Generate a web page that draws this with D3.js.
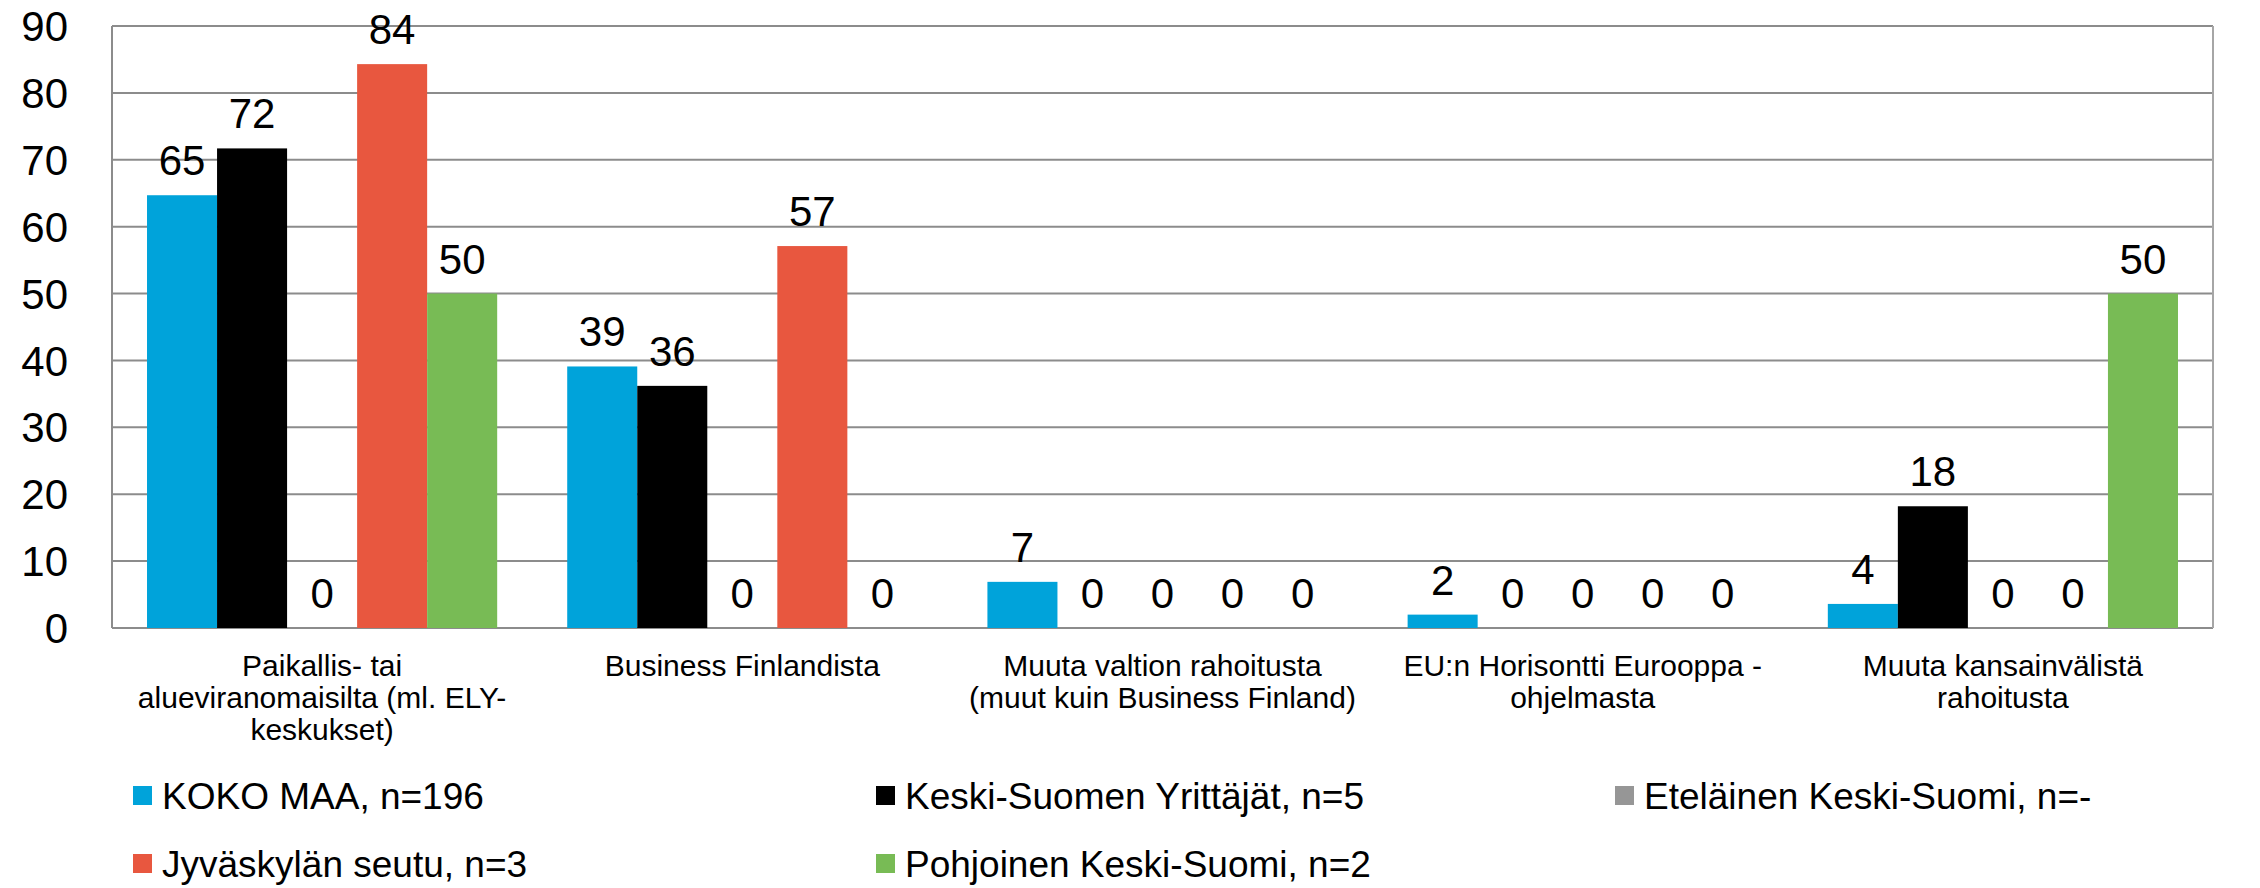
<!DOCTYPE html>
<html>
<head>
<meta charset="utf-8">
<script src="https://cdn.jsdelivr.net/npm/d3@7/dist/d3.min.js"></script>
<style>
  body, html {
    padding: 0;
    margin: 0;
    background: #fff;
  }
  svg {
    display: block;
    font-family: Arial, "Liberation Sans", sans-serif;
  }
</style>
</head>
<body>
<svg width="2260" height="888"></svg>
<script>

  // categories (wrapped as in the original)
  var categories = [
    ['Paikallis- tai', 'alueviranomaisilta (ml. ELY-', 'keskukset)'],
    ['Business Finlandista'],
    ['Muuta valtion rahoitusta', '(muut kuin Business Finland)'],
    ['EU:n Horisontti Eurooppa -', 'ohjelmasta'],
    ['Muuta kansainvälistä', 'rahoitusta']
  ];

  var seriesNames = [
    'KOKO MAA, n=196',
    'Keski-Suomen Yrittäjät, n=5',
    'Eteläinen Keski-Suomi, n=-',
    'Jyväskylän seutu, n=3',
    'Pohjoinen Keski-Suomi, n=2'
  ];

  var seriesColors = ['#00a3da', '#000000', '#969696', '#e8573f', '#78bb55'];

  // values per series, one per category
  var kokoMaa      = [64.7, 39.1, 6.9, 2.0, 3.6];
  var keskiSuomi   = [71.7, 36.2, 0, 0, 18.2];
  var etelainen    = [0, 0, 0, 0, 0];
  var jyvaskyla    = [84.3, 57.1, 0, 0, 0];
  var pohjoinen    = [50, 0, 0, 0, 50];

  var seriesValues = [kokoMaa, keskiSuomi, etelainen, jyvaskyla, pohjoinen];

  var yTicks = [0, 10, 20, 30, 40, 50, 60, 70, 80, 90];

  var svg = d3.select('svg');

  var plot = {left: 112, right: 2213, top: 26, bottom: 628};

  var x0 = d3.scaleBand()
    .domain(d3.range(categories.length))
    .range([plot.left, plot.right]);

  var x1 = d3.scaleBand()
    .domain(d3.range(seriesNames.length))
    .range([0, x0.bandwidth()])
    .paddingInner(0)
    .paddingOuter(0.5);

  var y = d3.scaleLinear()
    .domain([0, 90])
    .range([plot.bottom, plot.top]);

  // gridlines
  svg.append('g')
    .selectAll('line')
    .data(yTicks)
    .enter()
    .append('line')
      .attr('x1', plot.left)
      .attr('x2', plot.right)
      .attr('y1', function (d) { return y(d); })
      .attr('y2', function (d) { return y(d); })
      .style('stroke', '#8c8c8c')
      .style('stroke-width', 2);

  // left axis + right border
  svg.append('line')
    .attr('x1', plot.left).attr('x2', plot.left)
    .attr('y1', plot.top).attr('y2', plot.bottom)
    .style('stroke', '#8c8c8c').style('stroke-width', 2);

  svg.append('line')
    .attr('x1', plot.right).attr('x2', plot.right)
    .attr('y1', plot.top).attr('y2', plot.bottom)
    .style('stroke', '#a6a6a6').style('stroke-width', 2);

  // y tick labels
  svg.append('g')
    .selectAll('text')
    .data(yTicks)
    .enter()
    .append('text')
      .attr('x', 68)
      .attr('y', function (d) { return y(d); })
      .attr('dy', '0.36em')
      .attr('text-anchor', 'end')
      .style('font-size', '42px')
      .text(function (d) { return d; });

  // bars
  var groups = svg.append('g')
    .selectAll('g')
    .data(seriesValues)
    .enter()
    .append('g')
      .style('fill', function (d, i) { return seriesColors[i]; });

  groups.each(function (vals, s) {
    var g = d3.select(this);

    g.selectAll('rect')
      .data(vals)
      .enter()
      .append('rect')
        .attr('x', function (d, c) { return x0(c) + x1(s); })
        .attr('width', x1.bandwidth())
        .attr('y', function (d) { return y(d); })
        .attr('height', function (d) { return y(0) - y(d); });

    g.selectAll('text')
      .data(vals)
      .enter()
      .append('text')
        .attr('x', function (d, c) { return x0(c) + x1(s) + x1.bandwidth() / 2; })
        .attr('y', function (d) { return y(d) - 20; })
        .attr('text-anchor', 'middle')
        .style('fill', '#000')
        .style('font-size', '42px')
        .text(function (d) { return Math.round(d); });
  });

  // category labels
  var catLabels = svg.append('g')
    .selectAll('text')
    .data(categories)
    .enter()
    .append('text')
      .attr('text-anchor', 'middle')
      .style('font-size', '30px')
      .attr('transform', function (d, i) {
        return 'translate(' + (x0(i) + x0.bandwidth() / 2) + ',676)';
      });

  catLabels.selectAll('tspan')
    .data(function (d) { return d; })
    .enter()
    .append('tspan')
      .attr('x', 0)
      .attr('y', function (d, i) { return i * 32; })
      .text(function (d) { return d; });

  // legend
  var legendPos = [
    {x: 133, y: 796},
    {x: 876, y: 796},
    {x: 1615, y: 796},
    {x: 133, y: 864},
    {x: 876, y: 864}
  ];

  var legend = svg.append('g')
    .selectAll('g')
    .data(seriesNames)
    .enter()
    .append('g')
      .attr('transform', function (d, i) {
        return 'translate(' + legendPos[i].x + ',' + legendPos[i].y + ')';
      });

  legend.append('rect')
    .attr('x', 0)
    .attr('y', -10)
    .attr('width', 19)
    .attr('height', 19)
    .style('fill', function (d, i) { return seriesColors[i]; });

  legend.append('text')
    .attr('x', 29)
    .attr('y', 0)
    .attr('dy', '0.35em')
    .style('font-size', '37px')
    .text(function (d) { return d; });

</script>
</body>
</html>
